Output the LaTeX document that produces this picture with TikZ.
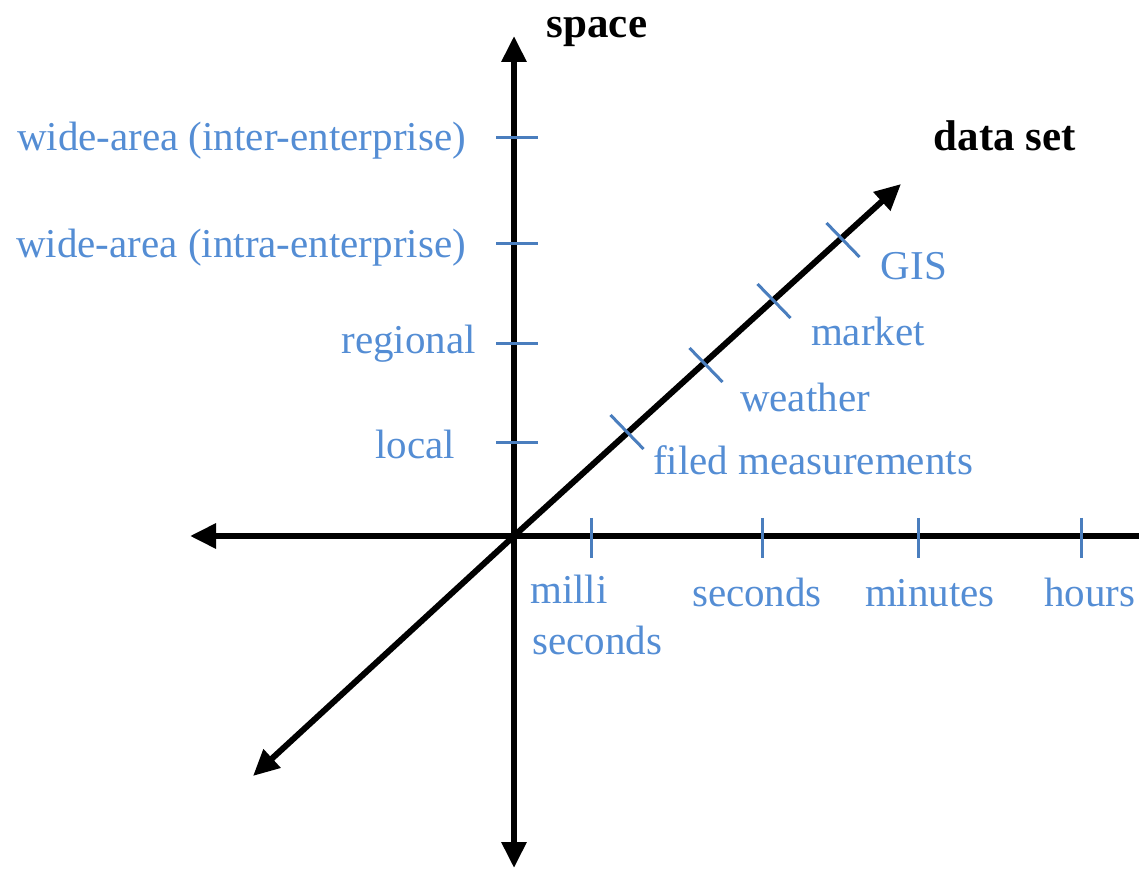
\documentclass[tikz,border=0pt]{standalone}
\usepackage{fontspec}
\setmainfont{Liberation Serif}
\usetikzlibrary{arrows.meta,calc}
\definecolor{lbl}{RGB}{84,141,212}
\definecolor{tk}{RGB}{74,126,190}
\begin{document}
\begin{tikzpicture}[x=1pt,y=1pt,
  axis/.style={line width=6pt,-{Triangle[length=26pt,width=24pt]}},
  axisplain/.style={line width=6pt},
  tickmark/.style={draw=tk,line width=3pt},
  lab/.style={text=lbl,font=\fontsize{41}{45}\selectfont,inner sep=0pt,anchor=base},
  ttl/.style={text=black,font=\fontsize{43}{47}\selectfont\bfseries,inner sep=0pt,anchor=base}]
\useasboundingbox (0,0) rectangle (1139,870);
% origin
\coordinate (O) at (514,334);
\coordinate (top) at (514,834);
\coordinate (bot) at (514,2);
\coordinate (left) at (190,334);
\coordinate (right) at (1145,334);
\coordinate (ne) at (901,686);
\coordinate (sw) at (253,94);
\draw[axis] (O) -- (top);
\draw[axis] (O) -- (bot);
\draw[axis] (O) -- (left);
\draw[axisplain] (O) -- (right);
\draw[axis] (O) -- (ne);
\draw[axis] (O) -- (sw);
% vertical ticks
\foreach \yy/\nm in {732/v1,626/v2,526/v3,427/v4}{
  \coordinate (\nm a) at (496,\yy); \coordinate (\nm b) at (538,\yy);
  \draw[tickmark] (\nm a) -- (\nm b);}
% horizontal ticks
\foreach \xx/\nm in {591/h1,762/h2,918/h3,1081/h4}{
  \coordinate (\nm a) at (\xx,352); \coordinate (\nm b) at (\xx,312);
  \draw[tickmark] (\nm a) -- (\nm b);}
% diagonal ticks
\foreach \xx/\yy/\nm in {627/438/d1,706/505/d2,774/569/d3,843/630/d4}{
  \coordinate (\nm a) at ($(\xx,\yy)+(-16.5,17)$);
  \coordinate (\nm b) at ($(\xx,\yy)+(16.5,-17)$);
  \draw[tickmark] (\nm a) -- (\nm b);}
% titles
\node[ttl,anchor=base] (space) at (597,832) {space};
\node[ttl,anchor=base] (dset) at (1005,719) {data set};
% space labels
\node[lab,anchor=base east] (l1) at (466,719) {wide-area (inter-enterprise)};
\node[lab,anchor=base east] (l2) at (466,612) {wide-area (intra-enterprise)};
\node[lab,anchor=base east] (l3) at (476,516) {regional};
\node[lab,anchor=base east] (l4) at (455,411) {local};
% data set labels
\node[lab] (g1) at (914,590) {GIS};
\node[lab] (g2) at (868,524) {market};
\node[lab] (g3) at (805,458) {weather};
\node[lab] (g4) at (813,395) {filed measurements};
% time labels
\node[lab,anchor=base west] (t1) at (530,266) {milli};
\node[lab,anchor=base west] (t1b) at (532,216) {seconds};
\node[lab] (t2) at (757,263) {seconds};
\node[lab] (t3) at (930,263) {minutes};
\node[lab] (t4) at (1090,263) {hours};
\end{tikzpicture}
\end{document}
